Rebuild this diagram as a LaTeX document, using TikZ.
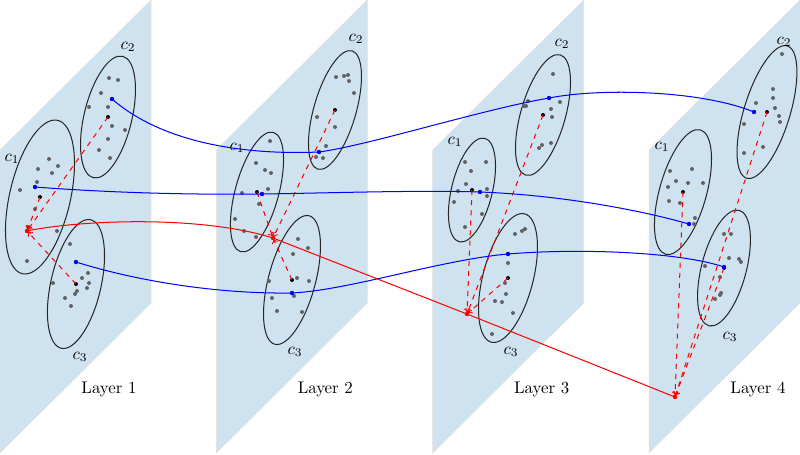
\documentclass[tikz,border=0pt]{standalone}
\usepackage{tikz}
\usepackage{amsmath,amssymb}
\definecolor{layerblue}{RGB}{206,226,239}
\definecolor{pointgray}{RGB}{98,98,98}
\newcommand{\drawlayer}[2]{
    \fill[layerblue,draw=gray!22,line width=.3pt] (#1,150) --++(151,-150) --++(0,303) --++(-151,150) --cycle;
    \node (layer#2) at ({#1+109},389) {Layer #2};
}
\newcommand{\drawcluster}[6]{
    \coordinate (#1) at (#2,#3);
    \draw[clusterline,rotate around={#4:(#1)}] (#1) ellipse [x radius=#5, y radius=#6];
}
\tikzset{
    clusterline/.style={black!85,semithick},
    graydot/.style={fill=pointgray},
    centerdot/.style={fill=black},
    bluedot/.style={fill=blue},
    reddot/.style={fill=red},
    track/.style={blue,semithick},
    flow/.style={red,semithick,->},
    assign/.style={red,dashed,semithick,->,shorten >=1pt}
}

\begin{document}
\begin{tikzpicture}[x=0.593pt,y=-0.593pt]
\useasboundingbox (0,0) rectangle (800,454);
\drawlayer{0}{1}
\drawlayer{216.3}{2}
\drawlayer{432.7}{3}
\drawlayer{649}{4}

\drawcluster{m11}{40}{197}{77}{78.7}{30.4}
\drawcluster{m12}{108}{117}{76.4}{62.5}{23.9}
\drawcluster{m13}{76}{284}{77.1}{65.9}{25.1}
\drawcluster{m21}{257}{192}{74.7}{61.9}{21.7}
\drawcluster{m22}{335}{110}{73.9}{61.6}{21.1}
\drawcluster{m23}{292}{280}{75}{66.5}{23.5}
\drawcluster{m31}{472}{190}{76.2}{53.3}{20.4}
\drawcluster{m32}{543}{115}{74}{62.6}{22.3}
\drawcluster{m33}{508}{278}{75.4}{66.3}{25.1}
\drawcluster{m41}{683}{192}{74.4}{64.6}{23.5}
\drawcluster{m42}{767}{112}{72.9}{69.2}{23}
\drawcluster{m43}{724}{268}{75.3}{59.7}{22.4}

\node (l11) at (12,159) {$c_1$};
\node (l12) at (128,47) {$c_2$};
\node (l13) at (80,357) {$c_3$};
\node (l21) at (237,148) {$c_1$};
\node (l22) at (356,39) {$c_2$};
\node (l23) at (295,352) {$c_3$};
\node (l31) at (455,142) {$c_1$};
\node (l32) at (562,44) {$c_2$};
\node (l33) at (511,352) {$c_3$};
\node (l41) at (662,147) {$c_1$};
\node (l42) at (784,42) {$c_2$};
\node (l43) at (730,337) {$c_3$};

\fill[graydot] (49,159) circle [radius=2] (38,169) circle [radius=2] (58,166) circle [radius=2] (52,173) circle [radius=2] (37,182) circle [radius=2] (20,190) circle [radius=2] (35,209) circle [radius=2] (28,227) circle [radius=2] (57,231) circle [radius=2] (27,261) circle [radius=2];
\fill[graydot] (109,78) circle [radius=2] (118,80) circle [radius=2] (101,93) circle [radius=2] (89,107) circle [radius=2] (108,107) circle [radius=2] (112,126) circle [radius=2] (125,130) circle [radius=2] (108,139) circle [radius=2] (99,150) circle [radius=2] (110,158) circle [radius=2];
\fill[graydot] (70,244) circle [radius=2] (88,273) circle [radius=2] (82,278) circle [radius=2] (53,283) circle [radius=2] (89,283) circle [radius=2] (87,288) circle [radius=2] (77,291) circle [radius=2] (75,294) circle [radius=2] (65,298) circle [radius=2] (71,306) circle [radius=2];
\fill[graydot] (270,141) circle [radius=2] (256,163) circle [radius=2] (265,170) circle [radius=2] (271,173) circle [radius=2] (242,193) circle [radius=2] (268,189) circle [radius=2] (259,204) circle [radius=2] (235,219) circle [radius=2] (244,231) circle [radius=2] (256,237) circle [radius=2];
\fill[graydot] (336,77) circle [radius=2] (344,76) circle [radius=2] (348,75) circle [radius=2] (349,81) circle [radius=2] (354,93) circle [radius=2] (317,117) circle [radius=2] (335,127) circle [radius=2] (326,146) circle [radius=2] (316,157) circle [radius=2] (323,158) circle [radius=2];
\fill[graydot] (298,239) circle [radius=2] (308,248) circle [radius=2] (293,254) circle [radius=2] (297,278) circle [radius=2] (309,281) circle [radius=2] (269,281) circle [radius=2] (294,296) circle [radius=2] (272,298) circle [radius=2] (277,311) circle [radius=2] (302,312) circle [radius=2];
\fill[graydot] (465,162) circle [radius=2] (486,162) circle [radius=2] (471,171) circle [radius=2] (466,184) circle [radius=2] (458,191) circle [radius=2] (487,189) circle [radius=2] (487,196) circle [radius=2] (454,202) circle [radius=2] (482,214) circle [radius=2] (465,227) circle [radius=2];
\fill[graydot] (553,74) circle [radius=2] (528,101) circle [radius=2] (524,106) circle [radius=2] (526,106) circle [radius=2] (560,102) circle [radius=2] (551,109) circle [radius=2] (552,117) circle [radius=2] (551,143) circle [radius=2] (542,145) circle [radius=2] (539,148) circle [radius=2];
\fill[graydot] (525,229) circle [radius=2] (522,231) circle [radius=2] (515,234) circle [radius=2] (508,263) circle [radius=2] (505,283) circle [radius=2] (506,294) circle [radius=2] (495,301) circle [radius=2] (502,302) circle [radius=2] (513,313) circle [radius=2] (492,334) circle [radius=2];
\fill[graydot] (692,169) circle [radius=2] (670,171) circle [radius=2] (676,181) circle [radius=2] (688,183) circle [radius=2] (703,183) circle [radius=2] (668,187) circle [radius=2] (669,201) circle [radius=2] (680,203) circle [radius=2] (695,218) circle [radius=2] (694,224) circle [radius=2];
\fill[graydot] (782,54) circle [radius=2] (773,89) circle [radius=2] (773,98) circle [radius=2] (756,103) circle [radius=2] (775,108) circle [radius=2] (779,116) circle [radius=2] (780,122) circle [radius=2] (744,124) circle [radius=2] (763,147) circle [radius=2] (744,153) circle [radius=2];
\fill[graydot] (724,234) circle [radius=2] (731,234) circle [radius=2] (729,258) circle [radius=2] (739,259) circle [radius=2] (741,262) circle [radius=2] (705,266) circle [radius=2] (720,277) circle [radius=2] (721,293) circle [radius=2] (720,295) circle [radius=2] (715,299) circle [radius=2];

\fill[centerdot] (m11) circle [radius=2] (m12) circle [radius=2] (m13) circle [radius=2] (m21) circle [radius=2] (m22) circle [radius=2] (m23) circle [radius=2] (m31) circle [radius=2] (m32) circle [radius=2] (m33) circle [radius=2] (m41) circle [radius=2] (m42) circle [radius=2] (m43) circle [radius=2];

\coordinate (b11) at (35,187);
\coordinate (b12) at (112,99);
\coordinate (b13) at (76,262);
\coordinate (b21) at (262,194);
\coordinate (b22) at (319,152);
\coordinate (b23) at (292,293);
\coordinate (b31) at (480,192);
\coordinate (b32) at (549,98);
\coordinate (b33) at (508,254);
\coordinate (b41) at (689,224);
\coordinate (b42) at (754,112);
\coordinate (b43) at (724,267);
\coordinate (r1) at (27,231);
\coordinate (r2) at (273,238);
\coordinate (r3) at (467,314);
\coordinate (r4) at (675,397);

\path (m11) edge[assign] (r1) (m12) edge[assign] (r1) (m13) edge[assign] (r1);
\path (m21) edge[assign] (r2) (m22) edge[assign] (r2) (m23) edge[assign] (r2);
\path (m31) edge[assign] (r3) (m32) edge[assign] (r3) (m33) edge[assign] (r3);
\path (m41) edge[assign] (r4) (m42) edge[assign] (r4) (m43) edge[assign] (r4);

\draw[track] (b12) .. controls (165,145) and (250,155) .. (b22) .. controls (370,145) and (480,110) .. (b32) .. controls (600,88) and (700,90) .. (b42);
\draw[track] (b11) .. controls (100,192) and (180,195) .. (b21) .. controls (330,193) and (420,190) .. (b31) .. controls (560,195) and (640,210) .. (b41);
\draw[track] (b13) .. controls (140,282) and (220,294) .. (b23) .. controls (350,290) and (440,260) .. (b33) .. controls (580,248) and (680,252) .. (b43);
\draw[flow] (r4) -- (r3) -- (r2) .. controls (200,215) and (80,220) .. (r1);

\fill[bluedot] (b11) circle [radius=2.2] (b12) circle [radius=2.2] (b13) circle [radius=2.2] (b21) circle [radius=2.2] (b22) circle [radius=2.2] (b23) circle [radius=2.2] (b31) circle [radius=2.2] (b32) circle [radius=2.2] (b33) circle [radius=2.2] (b41) circle [radius=2.2] (b42) circle [radius=2.2] (b43) circle [radius=2.2];
\fill[reddot] (r1) circle [radius=2.2] (r2) circle [radius=2.2] (r3) circle [radius=2.2] (r4) circle [radius=2.2];
\end{tikzpicture}
\end{document}
